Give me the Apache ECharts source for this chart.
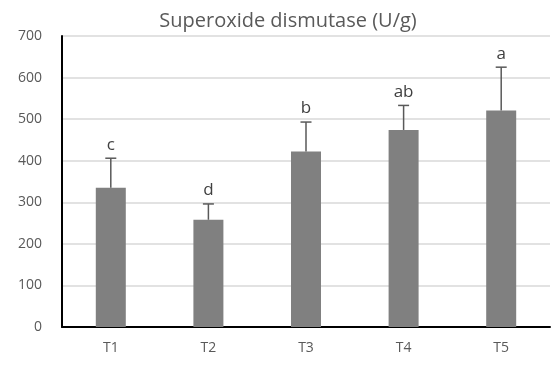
<!DOCTYPE html>
<html><head><meta charset="utf-8">
<script src="https://cdn.jsdelivr.net/npm/echarts@6/dist/echarts.min.js"></script>
<style>html,body{margin:0;padding:0;background:#fff}#c{width:552px;height:367px}</style>
</head><body><div id="c"></div>
<script>
var categories = ['T1', 'T2', 'T3', 'T4', 'T5'];
var means = [335, 258, 422, 474, 521];
var errors = [71, 38, 71, 59, 104];
var letters = ['c', 'd', 'b', 'ab', 'a'];
var yTicks = [0, 100, 200, 300, 400, 500, 600, 700];
var titleText = 'Superoxide dismutase (U/g)';

var FONT = '"Open Sans", "Noto Sans", sans-serif';
var chart = echarts.init(document.getElementById('c'));
var errData = categories.map(function (c, i) { return [i, means[i], means[i] + errors[i], letters[i]]; });

chart.setOption({
  animation: false,
  graphic: [{
    type: 'text', x: 288, y: 21,
    style: { text: titleText, textAlign: 'center', textVerticalAlign: 'middle', fontFamily: FONT, fontSize: 20, fill: '#595959' }
  }],
  grid: { left: 62, right: 2, top: 36, bottom: 40 },
  xAxis: {
    type: 'category', data: categories,
    axisLine: { lineStyle: { color: '#000', width: 2 } },
    axisTick: { show: false },
    axisLabel: { fontFamily: FONT, fontSize: 14, color: '#595959', margin: 14 }
  },
  yAxis: {
    type: 'value', min: yTicks[0], max: yTicks[yTicks.length - 1], interval: 100,
    axisLine: { show: true, lineStyle: { color: '#000', width: 2 } },
    axisTick: { show: false },
    axisLabel: { fontFamily: FONT, fontSize: 14, color: '#595959', margin: 20 },
    splitLine: { lineStyle: { color: '#d9d9d9', width: 1.5 } }
  },
  series: [
    {
      type: 'bar', data: means, barWidth: 30,
      itemStyle: { color: '#808080' }
    },
    {
      type: 'custom', data: errData, z: 5,
      encode: { x: 0, y: [1, 2] },
      renderItem: function (params, api) {
        var x = api.value(0);
        var p0 = api.coord([x, api.value(1)]);
        var p1 = api.coord([x, api.value(2)]);
        var hw = 5.5;
        return {
          type: 'group',
          children: [
            { type: 'line', shape: { x1: p0[0], y1: p0[1], x2: p1[0], y2: p1[1] }, style: { stroke: '#595959', lineWidth: 1.5 } },
            { type: 'line', shape: { x1: p1[0] - hw, y1: p1[1], x2: p1[0] + hw, y2: p1[1] }, style: { stroke: '#595959', lineWidth: 1.5 } },
            { type: 'text', x: p1[0], y: p1[1] - 5, style: { text: api.value(3), textAlign: 'center', textVerticalAlign: 'bottom', fontFamily: FONT, fontSize: 17, fill: '#404040' } }
          ]
        };
      }
    }
  ]
});
</script></body></html>
